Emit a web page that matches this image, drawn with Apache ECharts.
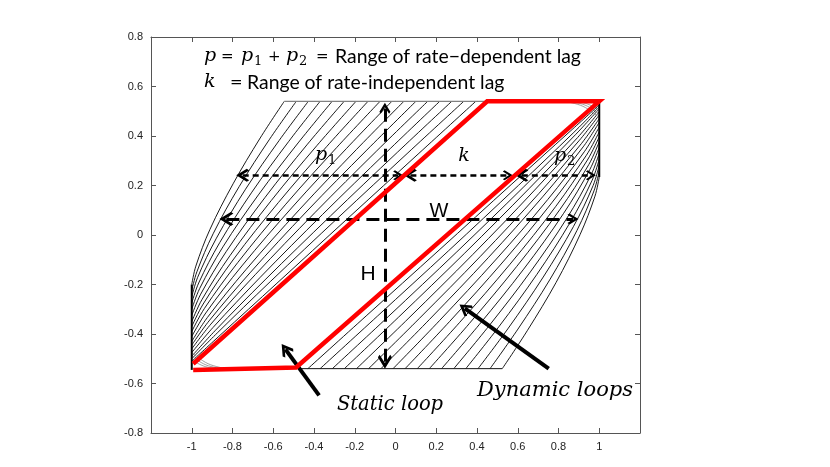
<!DOCTYPE html>
<html>
<head>
<meta charset="utf-8">
<script src="https://cdn.jsdelivr.net/npm/echarts@6/dist/echarts.min.js"></script>
<style>html,body{margin:0;padding:0;background:#fff}#c{width:830px;height:467px}</style>
</head>
<body>
<div id="c"></div>
<script>
// ---- tick labels ----
const xTickLabels = ['', '-1', '-0.8', '-0.6', '-0.4', '-0.2', '0', '0.2', '0.4', '0.6', '0.8', '1', ''];
const yTickLabels = ['-0.8', '-0.6', '-0.4', '-0.2', '0', '0.2', '0.4', '0.6', '0.8'];

// ---- static loop (red) ----
const staticLoop = [[-0.993, -0.52], [0.45, 0.54], [1.0, 0.54], [-0.488, -0.535], [-0.993, -0.545]];

// ---- dynamic loops: rising branches (left family) ----
const risingBranches = [
  [[-1,-0.2],[-0.980,-0.126],[-0.911,0.022],[-0.797,0.207],[-0.664,0.392],[-0.546,0.54]],
  [[-1,-0.225],[-0.975,-0.149],[-0.895,0.005],[-0.767,0.196],[-0.618,0.387],[-0.487,0.54]],
  [[-1,-0.25],[-0.971,-0.171],[-0.879,-0.013],[-0.736,0.185],[-0.571,0.382],[-0.428,0.54]],
  [[-1,-0.275],[-0.966,-0.194],[-0.863,-0.031],[-0.705,0.173],[-0.525,0.377],[-0.370,0.54]],
  [[-1,-0.3],[-0.961,-0.216],[-0.847,-0.048],[-0.673,0.162],[-0.478,0.372],[-0.311,0.54]],
  [[-1,-0.325],[-0.956,-0.239],[-0.830,-0.066],[-0.641,0.151],[-0.432,0.367],[-0.252,0.54]],
  [[-1,-0.35],[-0.950,-0.261],[-0.812,-0.083],[-0.609,0.140],[-0.385,0.362],[-0.194,0.54]],
  [[-1,-0.37],[-0.944,-0.279],[-0.794,-0.097],[-0.575,0.131],[-0.337,0.358],[-0.135,0.54]],
  [[-1,-0.39],[-0.938,-0.297],[-0.774,-0.111],[-0.541,0.122],[-0.288,0.354],[-0.076,0.54]],
  [[-1,-0.41],[-0.931,-0.315],[-0.754,-0.125],[-0.506,0.113],[-0.240,0.35],[-0.018,0.54]],
  [[-1,-0.43],[-0.923,-0.333],[-0.733,-0.139],[-0.470,0.104],[-0.191,0.346],[0.041,0.54]],
  [[-1,-0.445],[-0.915,-0.347],[-0.711,-0.150],[-0.434,0.097],[-0.141,0.343],[0.100,0.54]],
  [[-1,-0.46],[-0.906,-0.36],[-0.688,-0.16],[-0.396,0.09],[-0.092,0.34],[0.158,0.54]],
  [[-1,-0.475],[-0.896,-0.374],[-0.664,-0.171],[-0.358,0.083],[-0.041,0.337],[0.217,0.54]],
  [[-1,-0.49],[-0.886,-0.387],[-0.640,-0.181],[-0.319,0.077],[0.009,0.334],[0.276,0.54]],
  [[-1,-0.5],[-0.875,-0.396],[-0.614,-0.188],[-0.279,0.072],[0.061,0.332],[0.335,0.54]],
  [[-1,-0.51],[-0.861,-0.405],[-0.582,-0.195],[-0.233,0.068],[0.115,0.33],[0.394,0.54]]
];

// ---- dynamic loops: falling branches (right family) ----
const fallingBranches = [
  [[1,0.234],[0.979,0.157],[0.906,0.002],[0.788,-0.192],[0.648,-0.385],[0.524,-0.54]],
  [[1,0.258],[0.974,0.178],[0.891,0.019],[0.757,-0.181],[0.601,-0.380],[0.464,-0.54]],
  [[1,0.282],[0.970,0.200],[0.874,0.035],[0.725,-0.170],[0.554,-0.376],[0.405,-0.54]],
  [[1,0.306],[0.965,0.221],[0.858,0.052],[0.694,-0.159],[0.507,-0.371],[0.345,-0.54]],
  [[1,0.33],[0.960,0.243],[0.842,0.069],[0.662,-0.149],[0.460,-0.366],[0.286,-0.54]],
  [[1,0.354],[0.954,0.265],[0.824,0.086],[0.629,-0.138],[0.412,-0.361],[0.226,-0.54]],
  [[1,0.377],[0.949,0.285],[0.806,0.102],[0.595,-0.127],[0.363,-0.357],[0.166,-0.54]],
  [[1,0.397],[0.942,0.303],[0.787,0.116],[0.562,-0.118],[0.315,-0.353],[0.107,-0.54]],
  [[1,0.417],[0.936,0.321],[0.767,0.130],[0.527,-0.109],[0.266,-0.349],[0.047,-0.54]],
  [[1,0.436],[0.928,0.338],[0.747,0.143],[0.491,-0.101],[0.217,-0.345],[-0.012,-0.54]],
  [[1,0.455],[0.921,0.356],[0.725,0.157],[0.455,-0.092],[0.167,-0.341],[-0.072,-0.54]],
  [[1,0.47],[0.912,0.369],[0.703,0.167],[0.417,-0.086],[0.116,-0.338],[-0.132,-0.54]],
  [[1,0.485],[0.903,0.383],[0.679,0.178],[0.379,-0.079],[0.066,-0.335],[-0.191,-0.54]],
  [[1,0.498],[0.894,0.394],[0.655,0.187],[0.340,-0.073],[0.015,-0.332],[-0.251,-0.54]],
  [[1,0.51],[0.883,0.405],[0.630,0.195],[0.301,-0.068],[-0.036,-0.33],[-0.310,-0.54]],
  [[1,0.518],[0.872,0.412],[0.604,0.201],[0.260,-0.064],[-0.089,-0.328],[-0.370,-0.54]],
  [[1,0.525],[0.857,0.419],[0.571,0.206],[0.214,-0.061],[-0.144,-0.327],[-0.430,-0.54]]
];

// ---- saturation plateaus and turning-point bars ----
const topPlateau = [[-0.546, 0.54], [0.45, 0.54]];
const bottomPlateau = [[-0.47, -0.54], [0.524, -0.54]];
const leftBar = [[-1, -0.545], [-1, -0.2]];
const rightBar = [[1, 0.54], [1, 0.234]];
const cornerBL = [
  [[-1,-0.475],[-0.92,-0.52],[-0.83,-0.54]],
  [[-1,-0.49],[-0.93,-0.525],[-0.85,-0.54]],
  [[-1,-0.505],[-0.94,-0.53],[-0.88,-0.54]]
];
const cornerTR = [
  [[1,0.475],[0.92,0.52],[0.83,0.54]],
  [[1,0.49],[0.93,0.525],[0.85,0.54]],
  [[1,0.505],[0.94,0.53],[0.88,0.54]]
];

// ---- annotation arrows (data coordinates) ----
const longDashArrows = [
  [[-0.052, -0.512], [-0.052, 0.512]],   // H
  [[-0.830, 0.065], [0.871, 0.065]]      // W
];
const shortDashArrows = [
  [[-0.750, 0.241], [0.013, 0.241]],     // p1
  [[0.073, 0.241], [0.551, 0.241]],      // k
  [[0.620, 0.241], [0.959, 0.241]]       // p2
];
const pointerArrows = [
  [[-0.375, -0.648], [-0.540, -0.462]],  // Static loop
  [[0.752, -0.540], [0.340, -0.296]]     // Dynamic loops
];

const chevron = 'path://M0,0 L10,9 L7.6,11 L0,4.4 L-7.6,11 L-10,9 Z';

const chart = echarts.init(document.getElementById('c'), null, {renderer: 'canvas'});

const hatchStyle = {color: '#000', width: 0.9};
const series = [];
function addLine(data, style, smooth, z) {
  series.push({
    type: 'line', data: data, showSymbol: false, symbol: 'none', smooth: smooth,
    silent: true, animation: false, lineStyle: style, z: z || 2
  });
}
risingBranches.forEach(d => addLine(d, hatchStyle, 0.35));
fallingBranches.forEach(d => addLine(d, hatchStyle, 0.35));
cornerBL.forEach(d => addLine(d, {color: '#888', width: 0.8}, 0.4));
cornerTR.forEach(d => addLine(d, {color: '#888', width: 0.8}, 0.4));
addLine(topPlateau, {color: '#808080', width: 1.4}, false);
addLine(bottomPlateau, {color: '#111', width: 1}, false);
addLine(leftBar, {color: '#000', width: 2}, false);
addLine(rightBar, {color: '#000', width: 2}, false);

series.push({
  type: 'lines', coordinateSystem: 'cartesian2d', polyline: false, silent: true, animation: false, z: 3,
  symbol: [chevron, chevron], symbolSize: [14, 11],
  lineStyle: {color: '#000', width: 3, type: [13, 7], opacity: 1, curveness: 0},
  data: longDashArrows.map(c => ({coords: c}))
});
series.push({
  type: 'lines', coordinateSystem: 'cartesian2d', polyline: false, silent: true, animation: false, z: 3,
  symbol: [chevron, chevron], symbolSize: [13, 10],
  lineStyle: {color: '#000', width: 2.5, type: [6, 4], opacity: 1, curveness: 0},
  data: shortDashArrows.map(c => ({coords: c}))
});
series.push({
  type: 'lines', coordinateSystem: 'cartesian2d', polyline: false, silent: true, animation: false, z: 3,
  symbol: ['none', chevron], symbolSize: [17, 13],
  lineStyle: {color: '#000', width: 4, type: 'solid', opacity: 1, curveness: 0},
  data: pointerArrows.map(c => ({coords: c}))
});
series.push({
  type: 'line', data: staticLoop, showSymbol: false, symbol: 'none', silent: true, animation: false, z: 5,
  lineStyle: {color: '#ff0000', width: 4.5, join: 'miter'}
});

const axisCommon = {
  type: 'value', splitLine: {show: false},
  axisLine: {show: true, onZero: false, lineStyle: {color: '#555', width: 1}},
  axisTick: {show: true, inside: true, length: 5, lineStyle: {color: '#555'}}
};

const mathFont = 'italic 19px "DejaVu Serif"';
const subFont = '13px "DejaVu Serif"';
const opFont = '15px "DejaVu Serif"';
const textFont = '19.4px Lato';

function txt(x, y, text, font, align) {
  return {type: 'text', x: x, y: y, z: 10, silent: true,
    style: {text: text, font: font, fill: '#000', align: align || 'left', verticalAlign: 'middle'}};
}

chart.setOption({
  animation: false,
  backgroundColor: '#fff',
  grid: {left: 151, right: 190, top: 37, bottom: 34, containLabel: false},
  xAxis: [
    Object.assign({}, axisCommon, {min: -1.2, max: 1.2, interval: 0.2, position: 'bottom',
      axisLabel: {color: '#222', fontSize: 11, fontFamily: 'Liberation Sans', margin: 8,
        formatter: (v, i) => xTickLabels[i]}}),
    Object.assign({}, axisCommon, {min: -1.2, max: 1.2, interval: 0.2, position: 'top', axisLabel: {show: false}})
  ],
  yAxis: [
    Object.assign({}, axisCommon, {min: -0.8, max: 0.8, interval: 0.2, position: 'left',
      axisLabel: {color: '#222', fontSize: 11, fontFamily: 'Liberation Sans', margin: 8,
        formatter: (v, i) => yTickLabels[i]}}),
    Object.assign({}, axisCommon, {min: -0.8, max: 0.8, interval: 0.2, position: 'right', axisLabel: {show: false}})
  ],
  series: series,
  graphic: [
    // line 1
    txt(204, 56, 'p', mathFont),
    txt(221, 57, '=', opFont),
    txt(241, 56, 'p', mathFont),
    txt(254, 62, '1', subFont),
    txt(268, 57, '+', opFont),
    txt(286, 56, 'p', mathFont),
    txt(299, 62, '2', subFont),
    txt(316, 57, '=', opFont),
    txt(335, 57, 'Range of rate\u2212dependent lag', textFont),
    // line 2
    txt(204, 82, 'k', mathFont),
    txt(230, 83, '=', opFont),
    txt(247, 83, 'Range of rate-independent lag', textFont),
    // in-plot labels
    txt(315, 155, 'p', mathFont),
    txt(328, 161, '1', subFont),
    txt(464, 156, 'k', mathFont, 'center'),
    txt(554, 156, 'p', mathFont),
    txt(567, 162, '2', subFont),
    txt(439, 211, 'W', '20px "Liberation Sans"', 'center'),
    txt(368, 274, 'H', '21px "Liberation Sans"', 'center'),
    txt(390, 405, 'Static loop', 'italic 19.5px "DejaVu Serif"', 'center'),
    txt(555, 391, 'Dynamic loops', 'italic 21px "DejaVu Serif"', 'center')
  ]
});
</script>
</body>
</html>
